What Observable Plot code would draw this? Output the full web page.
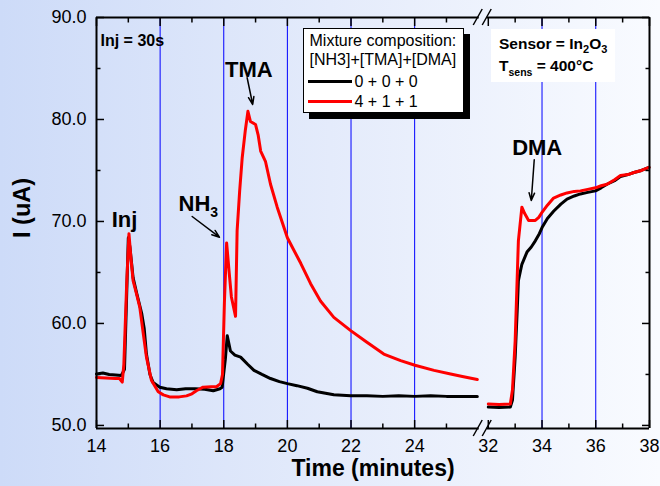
<!DOCTYPE html>
<html>
<head>
<meta charset="utf-8">
<script src="https://cdn.jsdelivr.net/npm/d3@7"></script>
<script src="https://cdn.jsdelivr.net/npm/@observablehq/plot@0.6"></script>
<style>
  html, body { margin: 0; padding: 0; }
  body {
    position: relative;
    width: 660px; height: 486px; overflow: hidden;
    background: linear-gradient(to right, #cddbf8 0%, #e4ebfb 50%, #f9fbff 100%);
    font-family: "Liberation Sans", Arial, sans-serif;
  }
  #chart { position: absolute; left: 0; top: 0; }
  #chart svg { display: block; }
  #legend {
    position: absolute; left: 303px; top: 28px; width: 159px; height: 83px;
    background: #fff; border: 1.5px solid #000; box-shadow: 6px 6px 0 #000;
    font-size: 16px; line-height: 16px; color: #000;
  }
  #legend .row { position: absolute; white-space: nowrap; }
  #legend .swatch { position: absolute; height: 3px; width: 44px; left: 3.5px; }
  #sensor {
    position: absolute; left: 491px; top: 29px; width: 124px; height: 53px;
    background: #fff; font-size: 15.5px; line-height: 15.5px; font-weight: bold; color: #000;
  }
  #sensor .row { position: absolute; left: 8px; white-space: nowrap; }
  #sensor .sub { font-size: 11px; position: relative; top: 4px; }
</style>
</head>
<body>
<div id="chart"></div>
<div id="legend"></div>
<div id="sensor">
  <div class="row" style="top:7px">Sensor = In<span class="sub">2</span>O<span class="sub">3</span></div>
  <div class="row" style="top:29px">T<span class="sub" style="font-size:10.5px;top:5px">sens</span> = 400°C</div>
</div>
<script>
// Sensor current I (uA) against time (minutes); the time axis is broken between 26 and 32 min.
const blankEarly = [
  [14.0,55.05],[14.2,55.15],[14.4,55.0],[14.6,54.95],[14.78,54.9],[14.88,55.5],[14.95,63.0],
  [15.0,68.4],[15.05,67.5],[15.15,64.5],[15.26,63.0],[15.42,61.0],[15.5,59.5],[15.57,57.0],
  [15.68,55.0],[15.78,54.2],[15.99,53.75],[16.2,53.6],[16.52,53.5],[16.8,53.6],[17.1,53.6],
  [17.4,53.55],[17.67,53.4],[17.88,53.6],[17.95,53.75],[18.05,56.5],[18.11,58.8],[18.21,57.3],
  [18.35,56.9],[18.53,56.7],[18.75,56.0],[18.95,55.4],[19.2,55.0],[19.47,54.6],[19.75,54.3],
  [20.0,54.1],[20.3,53.9],[20.63,53.65],[20.94,53.3],[21.2,53.15],[21.46,53.0],[21.99,52.9],
  [22.5,52.9],[23.0,52.85],[23.5,52.9],[24.0,52.85],[24.5,52.9],[25.0,52.85],[25.5,52.85],[25.97,52.85]
];
const blankLate = [
  [32.0,51.8],[32.4,51.75],[32.82,51.8],[32.9,52.5],[33.0,56.7],[33.08,61.5],[33.12,64.2],
  [33.25,65.8],[33.44,67.0],[33.6,67.5],[33.75,68.1],[33.9,68.8],[34.0,69.4],[34.2,70.3],
  [34.43,71.0],[34.7,71.7],[34.93,72.2],[35.2,72.5],[35.43,72.7],[35.7,72.85],[35.99,73.0],
  [36.2,73.3],[36.42,73.65],[36.7,74.0],[36.92,74.4],[37.2,74.6],[37.42,74.8],[37.7,75.0],[37.98,75.3]
];
const mixtureEarly = [
  [14.0,54.7],[14.3,54.65],[14.6,54.6],[14.72,54.6],[14.81,54.25],[14.86,56.0],[14.95,64.0],
  [15.02,68.8],[15.08,66.5],[15.15,64.2],[15.25,63.0],[15.36,61.6],[15.47,59.0],[15.57,56.7],
  [15.73,54.4],[15.94,53.3],[16.1,53.0],[16.3,52.8],[16.6,52.8],[16.83,52.9],[17.0,53.1],
  [17.14,53.4],[17.35,53.75],[17.6,53.8],[17.77,53.8],[17.9,54.1],[17.96,55.0],[18.02,62.0],
  [18.09,67.9],[18.17,65.0],[18.24,62.6],[18.37,60.7],[18.42,69.1],[18.5,73.0],[18.58,76.25],
  [18.68,79.0],[18.76,80.8],[18.84,79.8],[19.0,79.5],[19.08,78.5],[19.16,76.9],[19.31,75.9],
  [19.47,73.65],[19.68,71.4],[20.0,68.4],[20.2,67.2],[20.42,65.9],[20.73,63.9],[21.04,62.2],
  [21.46,60.6],[21.99,59.3],[22.5,58.15],[23.03,57.0],[23.56,56.35],[24.01,55.9],[24.61,55.4],
  [25.13,55.05],[25.5,54.8],[25.97,54.5]
];
const mixtureLate = [
  [32.0,52.1],[32.4,52.05],[32.82,52.1],[32.9,53.5],[33.0,58.3],[33.12,68.1],[33.25,71.4],
  [33.35,70.8],[33.5,70.1],[33.75,70.1],[33.88,70.4],[34.0,70.9],[34.2,71.6],[34.43,72.3],
  [34.7,72.6],[34.93,72.8],[35.2,72.95],[35.43,73.0],[35.7,73.15],[35.99,73.3],[36.2,73.5],
  [36.42,73.65],[36.7,74.1],[36.92,74.5],[37.2,74.6],[37.42,74.8],[37.7,75.0],[37.98,75.3]
];

const seriesNames = ["0 + 0 + 0", "4 + 1 + 1"];
const seriesColors = ["#000000", "#ff0000"];
const legendTitle = ["Mixture composition:", "[NH3]+[TMA]+[DMA]"];

const majorTimes = [14, 16, 18, 20, 22, 24, 32, 34, 36, 38];
const minorTimes = [15, 17, 19, 21, 23, 25, 33, 35, 37];
const gridTimes = [16, 18, 20, 22, 24, 34, 36];
const majorCurrents = [50, 60, 70, 80, 90];
const minorCurrents = [55, 65, 75, 85];

const peakLabels = [
  {text: "Inj", t: 14.88, v: 70.1},
  {text: "TMA", t: 18.79, v: 84.9},
  {text: "DMA", t: 33.82, v: 77.25}
];
const gasLabels = [{text: "NH3", t: 16.58, v: 71.7}];
const pointers = [
  {t1: 18.735, v1: 84.09, t2: 18.91, v2: 81.47},
  {t1: 17.007, v1: 70.49, t2: 17.864, v2: 68.46},
  {t1: 33.71, v1: 76.05, t2: 33.6, v2: 72.06}
];

// Broken time axis: 14–26 min at full scale, 32–38 min compressed after the gap.
const U_RESUME = 26.315, SQUEEZE = 0.8445;
const toU = t => (t <= 28 ? t : U_RESUME + (t - 32) * SQUEEZE);
const fromU = u => (u <= 26.2 ? u : 32 + (u - U_RESUME) / SQUEEZE);
const U_END = toU(38);
const GAP_START = 26.03, GAP_END = 26.28;
const Y_MIN = 49.7, Y_MAX = 90;

const rows = [];
[[blankEarly, blankLate], [mixtureEarly, mixtureLate]].forEach((segs, s) => {
  segs.forEach((seg, k) => seg.forEach(([t, v]) => rows.push({series: seriesNames[s], seg: s + "-" + k, t, v})));
});

const font = "Liberation Sans, Arial, sans-serif";
const frameRows = [
  {y: Y_MIN, x1: 14, x2: GAP_START}, {y: Y_MIN, x1: GAP_END, x2: U_END},
  {y: Y_MAX, x1: 14, x2: GAP_START}, {y: Y_MAX, x1: GAP_END, x2: U_END}
];
const blank = () => "";

const chart = Plot.plot({
  width: 660,
  height: 486,
  marginLeft: 96,
  marginRight: 11,
  marginTop: 17,
  marginBottom: 58,
  x: {domain: [14, U_END]},
  y: {domain: [Y_MIN, Y_MAX]},
  color: {domain: seriesNames, range: seriesColors},
  style: {background: "transparent", fontFamily: font, color: "black", overflow: "visible"},
  marks: [
    Plot.ruleX(gridTimes, {x: toU, stroke: "#0000ff", strokeWidth: 1}),
    Plot.line(rows, {x: d => toU(d.t), y: "v", z: "seg", stroke: "series", strokeWidth: 3, strokeLinejoin: "round"}),
    Plot.ruleX([14, U_END], {stroke: "black", strokeWidth: 2}),
    Plot.ruleY(frameRows, {y: "y", x1: "x1", x2: "x2", stroke: "black", strokeWidth: 2}),
    Plot.axisX(majorTimes.map(toU), {anchor: "bottom", tickSize: -8, tickPadding: 19, strokeWidth: 1.5,
      tickFormat: u => String(Math.round(fromU(u))), fontSize: 18, label: null}),
    Plot.axisX(minorTimes.map(toU), {anchor: "bottom", tickSize: -4.5, strokeWidth: 1.5, tickFormat: blank, label: null}),
    Plot.axisX(majorTimes.map(toU), {anchor: "top", tickSize: -8, strokeWidth: 1.5, tickFormat: blank, label: null}),
    Plot.axisX(minorTimes.map(toU), {anchor: "top", tickSize: -4.5, strokeWidth: 1.5, tickFormat: blank, label: null}),
    Plot.axisY(majorCurrents, {anchor: "left", tickSize: -8, tickPadding: 18, strokeWidth: 1.5,
      tickFormat: d3.format(".1f"), fontSize: 18, label: null}),
    Plot.axisY(minorCurrents, {anchor: "left", tickSize: -4.5, strokeWidth: 1.5, tickFormat: blank, label: null}),
    Plot.axisY(majorCurrents, {anchor: "right", tickSize: -8, strokeWidth: 1.5, tickFormat: blank, label: null}),
    Plot.axisY(minorCurrents, {anchor: "right", tickSize: -4.5, strokeWidth: 1.5, tickFormat: blank, label: null}),
    Plot.text(["Time (minutes)"], {frameAnchor: "bottom", dy: 47, fontSize: 23, fontWeight: "bold"}),
    Plot.text(["I (uA)"], {frameAnchor: "left", dx: -74, dy: 15, rotate: -90, fontSize: 23.5, fontWeight: "bold"}),
    Plot.text(["Inj = 30s"], {frameAnchor: "top-left", dx: 4, dy: 17, textAnchor: "start", fontSize: 16, fontWeight: "bold"}),
    Plot.text(peakLabels, {x: d => toU(d.t), y: "v", text: "text", fontSize: 22, fontWeight: "bold"}),
    Plot.text(gasLabels, {x: d => toU(d.t), y: "v", text: "text", textAnchor: "start", fontSize: 22, fontWeight: "bold"}),
    Plot.arrow(pointers, {x1: d => toU(d.t1), y1: "v1", x2: d => toU(d.t2), y2: "v2",
      stroke: "black", strokeWidth: 1.5, headLength: 8, headAngle: 40})
  ]
});

document.getElementById("chart").appendChild(chart);

const svg = d3.select(chart);
const sx = chart.scale("x"), sy = chart.scale("y");

// Subscript in the NH3 label
svg.selectAll("text").filter(function() { return this.textContent === "NH3"; }).each(function() {
  const el = d3.select(this);
  el.text("NH");
  el.append("tspan").attr("font-size", 14).attr("dy", 6).text("3");
});

// Axis-break slashes on the top and bottom frame lines
const gapMid = (sx.apply(GAP_START) + sx.apply(GAP_END)) / 2;
const breaks = svg.append("g").attr("stroke", "black").attr("stroke-width", 1.5);
[sy.apply(Y_MIN), sy.apply(Y_MAX)].forEach(yy => {
  [-5, 4].forEach(off => {
    breaks.append("line")
      .attr("x1", gapMid + off - 4.5).attr("y1", yy + 8)
      .attr("x2", gapMid + off + 4.5).attr("y2", yy - 8);
  });
});

// Legend: two title lines, then one swatch row per series
const legend = d3.select("#legend");
legendTitle.forEach((s, i) => legend.append("div").attr("class", "row")
  .style("left", "5.5px").style("top", (4 + i * 19) + "px").text(s));
seriesNames.forEach((s, i) => {
  legend.append("div").attr("class", "swatch")
    .style("top", (51 + i * 20) + "px").style("background", seriesColors[i]);
  legend.append("div").attr("class", "row")
    .style("left", "50.5px").style("top", (44.5 + i * 20) + "px").text(s);
});
</script>
</body>
</html>
